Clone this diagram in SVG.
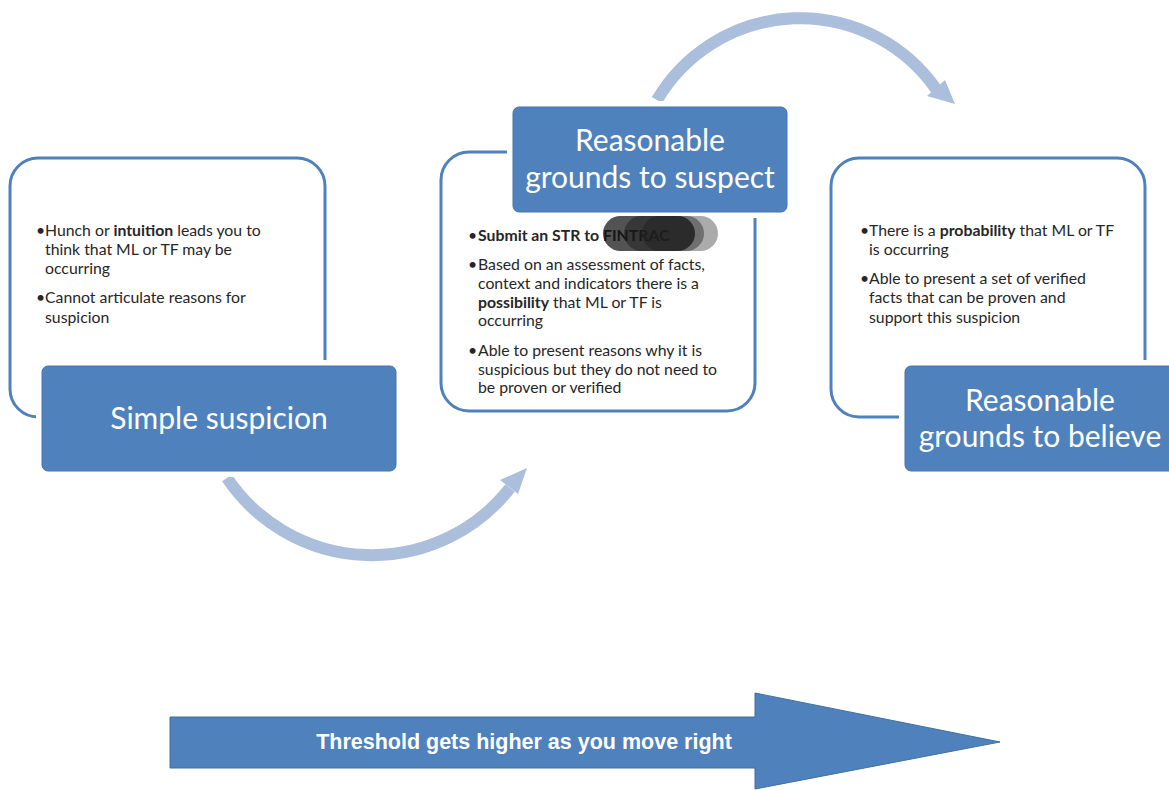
<svg xmlns="http://www.w3.org/2000/svg" width="1169" height="790" viewBox="0 0 1169 790">
<defs>
<style>
.frame{fill:#fff;stroke:#4F81BD;stroke-width:3}
.gap{fill:#fff}
.label{fill:#4F81BD;stroke:#4475AE;stroke-width:1}
.lt{font-family:Lato,"Open Sans",sans-serif;font-size:30px;fill:#fff;text-anchor:middle}
.bt{font-family:Lato,"Open Sans",sans-serif;font-size:15.8px;fill:#262626}
.b{font-weight:bold}
.arc{fill:none;stroke:#ABBEDB;stroke-width:12}
.head{fill:#ABBEDB}
</style>
</defs>
<rect width="1169" height="790" fill="#fff"/>

<g id="connectors">
<path class="arc" d="M227,478 A175,175 0 0 0 510,488"/>
<polygon class="head" points="527,468 500,480 518,494"/>
<path class="arc" d="M657,100 A166,166 0 0 1 936,89"/>
<polygon class="head" points="955,104 927,96 945,80"/>
</g>

<g id="simple-suspicion">
<rect class="frame" x="10" y="158" width="315" height="259" rx="28"/>
<rect class="gap" x="36" y="360" width="366" height="117" rx="8"/>
<rect class="label" x="42" y="366" width="354" height="105" rx="6"/>
<text class="lt" x="219" y="429">Simple suspicion</text>
<text class="bt"><tspan x="36" y="236">•</tspan><tspan x="45" y="236">Hunch or <tspan class="b">intuition</tspan> leads you to</tspan><tspan x="45" y="255">think that ML or TF may be</tspan><tspan x="45" y="274">occurring</tspan><tspan x="36" y="303">•</tspan><tspan x="45" y="303">Cannot articulate reasons for</tspan><tspan x="45" y="323">suspicion</tspan></text>
</g>

<g id="reasonable-suspect">
<rect class="frame" x="441" y="152" width="314" height="259" rx="28"/>
<rect class="gap" x="507" y="101" width="286" height="117" rx="8"/>
<rect class="label" x="513" y="107" width="274" height="105" rx="6"/>
<text class="lt" x="650" y="151">Reasonable</text>
<text class="lt" x="650" y="188">grounds to suspect</text>
<text class="bt"><tspan x="468" y="241">•</tspan><tspan x="478" y="241" class="b">Submit an STR to FINTRAC</tspan><tspan x="468" y="270">•</tspan><tspan x="478" y="270">Based on an assessment of facts,</tspan><tspan x="478" y="289">context and indicators there is a</tspan><tspan x="478" y="308"><tspan class="b">possibility</tspan> that ML or TF is</tspan><tspan x="478" y="326">occurring</tspan><tspan x="468" y="356">•</tspan><tspan x="478" y="356">Able to present reasons why it is</tspan><tspan x="478" y="375">suspicious but they do not need to</tspan><tspan x="478" y="393">be proven or verified</tspan></text>
<g id="smudge">
<rect x="642" y="216" width="76" height="35" rx="17.5" fill="#666" opacity="0.55"/>
<rect x="624" y="216" width="80" height="35" rx="17.5" fill="#333" opacity="0.5"/>
<rect x="603" y="216" width="92" height="35" rx="17.5" fill="#111" opacity="0.72"/>
</g>
</g>

<g id="reasonable-believe">
<rect class="frame" x="831" y="158" width="314" height="259" rx="28"/>
<rect class="gap" x="899" y="360" width="276" height="117" rx="8"/>
<rect class="label" x="905" y="366" width="274" height="105" rx="6"/>
<text class="lt" x="1040" y="411">Reasonable</text>
<text class="lt" x="1040" y="447">grounds to believe</text>
<text class="bt"><tspan x="860" y="236">•</tspan><tspan x="869" y="236">There is a <tspan class="b">probability</tspan> that ML or TF</tspan><tspan x="869" y="255">is occurring</tspan><tspan x="860" y="284">•</tspan><tspan x="869" y="284">Able to present a set of verified</tspan><tspan x="869" y="303">facts that can be proven and</tspan><tspan x="869" y="323">support this suspicion</tspan></text>
</g>

<g id="threshold-arrow">
<polygon points="170,717 755,717 755,693 1000,742 755,789 755,768 170,768" fill="#4F81BD" stroke="#41719C" stroke-width="1"/>
<text x="524" y="749" font-family="'Liberation Sans',Arial,sans-serif" font-weight="bold" font-size="21.5" fill="#fff" text-anchor="middle">Threshold gets higher as you move right</text>
</g>
</svg>
